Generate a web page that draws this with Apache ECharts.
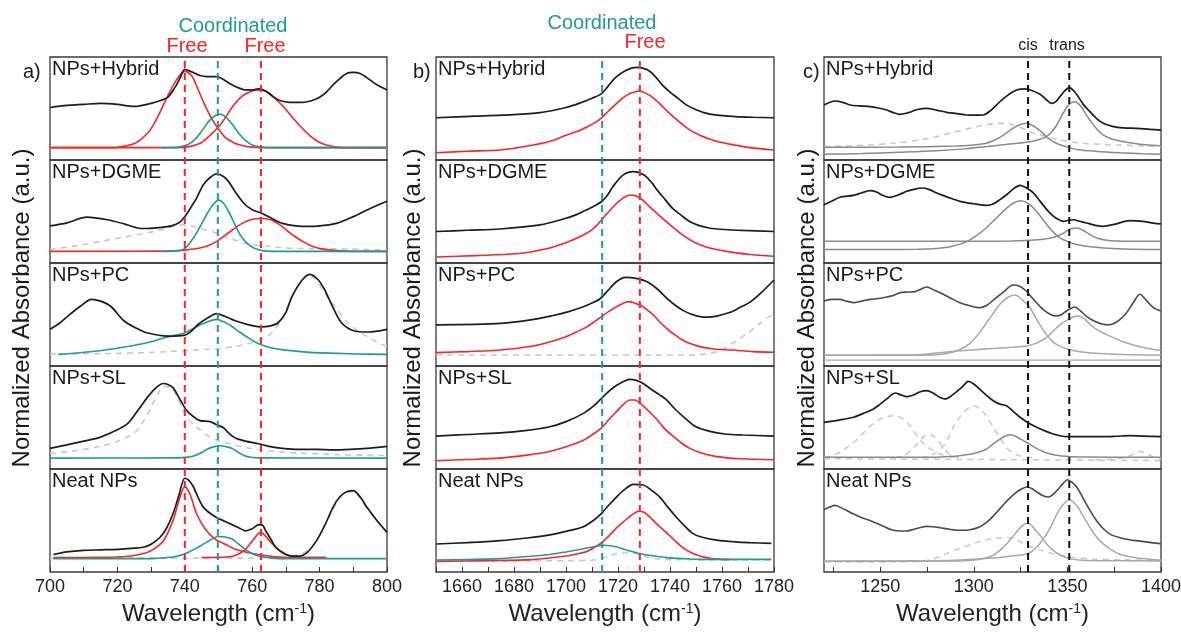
<!DOCTYPE html>
<html><head><meta charset="utf-8">
<script src="https://cdn.jsdelivr.net/npm/echarts@6/dist/echarts.min.js"></script>
<style>html,body{margin:0;padding:0;background:#fff}#chart{width:1181px;height:635px}</style>
</head><body><div id="chart"></div>
<script>
// ---------- tick labels / axes ----------
const aLabels = [700, 720, 740, 760, 780, 800];
const aTicks = [700, 710, 720, 730, 740, 750, 760, 770, 780, 790, 800];
const bLabels = [1660, 1680, 1700, 1720, 1740, 1760, 1780];
const bTicks = [1650, 1660, 1670, 1680, 1690, 1700, 1710, 1720, 1730, 1740, 1750, 1760, 1770, 1780];
const cLabels = [1250, 1300, 1350, 1400];
const cTicks = [1225, 1250, 1275, 1300, 1325, 1350, 1375, 1400];
const rowNames = ['NPs+Hybrid', 'NPs+DGME', 'NPs+PC', 'NPs+SL', 'Neat NPs'];

// ---------- reference lines ----------
const aFreeLines = [740, 762.6];
const aCoordLines = [749.8];
const bFreeLines = [1728.4];
const bCoordLines = [1713.9];
const cLines = [1329, 1351];

// ---------- panel a (700-800) ----------
const aHybBlack = [[700,51],[705,53],[710,54],[715,55],[720,54],[725,52],[730,55],[733,58],[735,61],[737,70],[738.5,79],[740,88],[741,87],[742.5,85],[744.5,82],[746.5,81],[749.5,81],[752,77],[754,73],[756,70],[758,68],[760,68],[762,69],[764,67],[766,62],[768,58],[771,56],[775,56],[778,58],[780,61],[782,66],[784,73],[786,79],[788,84],[790,85],[792,84],[794,80],[797,73],[800,68]];
const aHybFree1 = [[700,12],[716,12],[720,12.3],[724.7,15.5],[727,20],[729.7,29],[732,42],[734.6,60],[737.6,78],[740,86],[742,82],[744,68],[746,53],[748,40],[750,30],[752,22],[754.4,17],[757,14],[760,12.5],[765,12],[800,12]];
const aHybCoord = [[733,12],[738,12.5],[741,15],[743,20],[745,28],[747,37],[749,43],[750.5,44.5],[752,42],[754,35],[756,26],[758,19],[760,14.5],[763,12.5],[767,12],[800,12]];
const aHybFree2 = [[700,12],[738,12],[742,13.5],[745,17],[747.5,24],[750,32],[752,41],[754,51],[757,62],[760,67],[762,68],[764.5,66],[767,59],[769.5,51],[772,41],[774.5,32],[777,24],[779.5,18],[782,14.5],[785,12.5],[790,12],[800,12]];

const aDgmeBlack = [[700,36],[705,39],[711,44.5],[717,42],[722,38],[726,34],[729,33.5],[733,34.5],[736,36],[738.5,39.5],[740,45],[742,55],[743.5,63],[745.5,76],[747.5,83],[749.5,86.5],[751.5,84],[753,79],[755,69],[757.5,58],[760,51.6],[763,48],[766,43],[769,38.5],[773,36],[777,35.5],[780,36],[785,38.5],[790,45],[795,53],[800,60]];
const aDgmeCoord = [[733,11.3],[738,12],[740,14],[742.5,24],[745,38],[747,50],[748.5,57],[750,61],[751.5,58],[753,50],[754.5,40],[756.5,27],[758.5,19],[760.5,14.5],[763,12],[766,11.3],[800,11.3]];
const aDgmeFree = [[700,11.3],[735,11.5],[740,12.5],[744.5,14.5],[747,17],[749.5,21],[752,27],[754.5,33],[757,38.5],[759.5,42],[762.5,43.5],[765.5,42],[768,37.5],[770.5,31],[773,25],[775.5,20],[778,16],[781,13.5],[785,12],[790,11.3],[800,11.3]];
const aDgmeFit = [[700,13],[710,18],[720,24],[730,30],[735,34],[738,36.5],[740,37],[743,35],[746,32],[749.4,29],[753,24],[756,21],[760,18],[765,16],[770,14.5],[780,13.8],[790,13.5],[800,12.5]];

const aPcBlack = [[700,35.6],[703,42],[705.3,48.5],[709,58],[712.3,64.7],[715,63],[718,58],[722,43.7],[725.5,37],[729,32],[735,29],[740,30],[742,34],[744,40.5],[747,47],[749.4,50.8],[752,48],[755,44],[759,40],[762.7,37.9],[765.5,39],[767.7,42],[770,52],[771.6,66],[774.6,82.5],[777,89],[779.5,84],[781.5,74],[783.5,60],[786.5,42],[790.4,34],[794.4,33],[800,35.6]];
const aPcCoord = [[702.4,11.3],[714.2,14.6],[724,19.4],[730,23.5],[734,27.5],[740,32.4],[745,40.5],[749.4,45.3],[751.5,43],[753.8,38.8],[756,33.5],[758.8,27.5],[761,23],[763.7,19.4],[767,16.8],[770.6,15.2],[778.5,13],[790,11.8],[800,11.3]];
const aPcFit = [[700,11.3],[715,12],[729,13],[741,15.2],[751,17],[755,19],[758.8,21.7],[762,25],[764.7,29],[766.5,35],[768.6,43.7],[770.5,58],[772.6,72.8],[775,84],[777,87.4],[779,84],[780.5,76],[783,64],[785.5,53.4],[788,43],[791.5,34],[795,27],[798.3,21],[800,19.4]];

const aSlBlack = [[700,20],[705,23.5],[710,27],[715,31],[720,38],[723,44],[725,52],[727,61],[729,70],[731.5,79],[733.6,83],[735,82],[736.5,79],[738.5,68],[740.5,57],[742.5,51],[744.5,47],[747.5,46],[749.5,43],[751.5,40],[753,35],[755,30],[758,27],[762,24.5],[765,22],[769,20],[774,19],[779,19],[784,18.5],[789,19],[794,20],[800,22]];
const aSlFit = [[700,15],[708,18],[715,22],[720,27],[725,35],[728,48],[730,60],[732,73],[733.6,80],[735,80],[736.5,77],[738.5,65],[740.5,51],[742.5,43],[744.5,38],[747,32],[749.5,28],[754,24],[759.5,20],[765,17.5],[774,15.5],[785,14],[800,13]];
const aSlCoord = [[700,10.6],[738,10.8],[741,11.5],[743,13],[745,16],[746.5,19],[748.5,21.5],[750.5,22.6],[752.5,21.5],[754,20],[756,16],[758,12.5],[760,11.2],[762,10.8],[800,10.6]];

const aNeatBlack = [[701,17],[705,19.5],[710,21],[715,21.5],[720,22],[724,23],[727.6,24],[730,27],[732.6,33.5],[734.5,42],[736.5,56.5],[738.3,75],[740,91],[741.2,89],[742.5,83],[744,72],[745.5,63],[747.5,57],[749.4,53],[752,49],[754,46],[756,43],[758,40],[760,42],[762,46],[763.2,45],[764,40],[765.5,32],[767,24],[770,17],[772,15.5],[774,15.5],[776,18],[779,30],[781.5,45],[784,63],[786,73],[788,78],[790,79],[792,73],[794,63],[797,50],[800,38.5]];
const aNeatFree1 = [[701,14],[715,14.2],[720,14.5],[725,16],[729.6,20],[733.6,30],[736.5,50],[738.5,72],[740,83],[741.5,76],[743.5,56.5],[746,42],[749,32],[752,27],[755,22],[759.3,18.5],[765,15.5],[770,14],[782,14]];
const aNeatFree2 = [[745,14],[752,14.5],[755,16],[758,22],[760,30],[762.5,38.5],[765,31],[767,24],[770,17],[773,14.5],[782,14]];
const aNeatCoord = [[701,13],[730,13],[735,14],[739.5,17],[744.5,25],[747,30],[750,34.5],[752,34],[754,32],[756,27],[758,22],[760,18],[762,15.5],[766,13.5],[770,13],[800,13]];
const aNeatFit = [[700,13.5],[740,13.5],[760,13.5],[770,14.5],[774,17],[777,22],[779,30],[781.5,45],[784,61],[786,72],[788,77],[790,78],[792,72],[794,62],[797,50],[800,38]];

// ---------- panel b (1650-1780) ----------
const bHybBlack = [[1650,41],[1665,42.6],[1680,44],[1690,46],[1700,51],[1705,55],[1710,60],[1713.7,64.5],[1716,71],[1719,80],[1723,87],[1727,90],[1731,88],[1734,82],[1737,73],[1740,66],[1743,60],[1746,54],[1749,50],[1753,46],[1758,43.5],[1765,42.2],[1772,41.5],[1780,41]];
const bHybRed = [[1650,7],[1662,8.5],[1674.6,9.7],[1687.4,14.5],[1695,19],[1700,24],[1705,28.5],[1708,32],[1711,36],[1713.7,41],[1716.5,48],[1719.5,55],[1722,60.5],[1724.6,64.5],[1728,67],[1732,63],[1735.5,56],[1738.7,48],[1742,40.5],[1745,34],[1748,28.5],[1751.5,24],[1755,20.5],[1758,18],[1765,14.5],[1770.8,12],[1780,9.7]];
const bDgmeBlack = [[1650,30.6],[1662,31.8],[1674.6,33],[1690,37],[1700,43.5],[1704,47],[1708,51.6],[1711,55.5],[1713.7,59.7],[1716,66],[1718,74],[1722,85.5],[1726,88.7],[1730,85.5],[1733,78],[1735,71],[1738,62],[1741,53],[1744.5,46],[1747.7,40],[1751,36.5],[1755,34],[1761,32.5],[1768,31.6],[1780,30.6]];
const bDgmeRed = [[1650,5.8],[1665,7.2],[1681,9],[1688,11.5],[1693.8,14.5],[1698,18],[1702.8,22.6],[1706.5,27],[1709.8,32],[1711.8,36.5],[1713.7,42],[1716.5,50],[1719.5,58],[1722,63],[1724.6,66],[1727,65],[1729.5,61],[1732,55],[1735.5,47],[1738.7,40],[1742,33],[1745,27],[1748,22],[1751.5,17.7],[1756,14],[1761.8,11.3],[1770,8.5],[1780,6.5]];
const bPcBlack = [[1650,40],[1675,41.4],[1687,45],[1695,49],[1700,52],[1705,56],[1709,60],[1713,65],[1716,73],[1719.5,82],[1723,86],[1727,85],[1731,82],[1735,75],[1738.7,66],[1742,59],[1745,54],[1748,50.5],[1751.5,48],[1755,47.5],[1758,48.5],[1761,50.5],[1764,53],[1767,57],[1770.8,62],[1775,71],[1780,83.5]];
const bPcRed = [[1650,13],[1662,14],[1674.6,15.5],[1687.4,19.4],[1694,23.5],[1700,28.5],[1704,33],[1708,38],[1711,43],[1713.7,48],[1716.5,53],[1719.5,57.6],[1722,61],[1724,62.5],[1726,61.5],[1728.5,59],[1731,55],[1733.6,49.5],[1736,43],[1738.7,36.6],[1742,30],[1745,25],[1748,21.5],[1751.5,18.8],[1757,16.5],[1764,15.5],[1772,14],[1780,13.3]];
const bPcFit = [[1650,10.7],[1700,10.7],[1748,10.7],[1752,11.2],[1756,12.5],[1760,16],[1764,22],[1767,27],[1770.5,33],[1775,42],[1780,51]];
const bSlBlack = [[1650,32],[1662,33.5],[1674.6,35],[1685,37.5],[1693.8,41],[1700,46],[1706.7,54],[1711,62],[1715.6,73.5],[1720,82],[1724.6,87],[1727,86],[1729.7,83],[1733,77],[1736,72],[1738.7,67],[1742,58],[1746.4,48],[1750,41],[1755.4,36.5],[1761,34],[1768,33],[1780,32]];
const bSlRed = [[1650,8],[1662,9.2],[1674.6,10.6],[1685,13.5],[1693.8,17],[1700,21.5],[1706.7,28],[1710.5,34],[1713.7,40],[1716.5,48],[1719.5,56],[1722,62.5],[1724.6,67],[1726.5,67],[1728.5,64],[1731.5,57],[1735,48],[1738,39],[1741.3,31.6],[1744.5,25],[1747.7,20],[1752,15.5],[1758,12],[1767,10],[1780,9]];
const bNeatBlack = [[1650,27.2],[1662,28.5],[1674.6,30.4],[1685,33],[1693.8,36],[1700,39.5],[1706.7,44],[1710.5,50],[1713.7,57],[1716.5,65],[1719.5,73],[1722.5,80],[1725.9,85],[1729.7,84.5],[1733,79],[1736,73],[1739,63.5],[1742.3,53.7],[1745.5,45],[1748.7,37.5],[1752,34],[1758,31],[1765,29.3],[1770.8,28.5],[1779,27.8]];
const bNeatRed = [[1650,10.3],[1670,11],[1687,12],[1700,15.5],[1705,18],[1708,20],[1711,24],[1713.7,28.4],[1716.5,35],[1719.5,43],[1722,48.5],[1724.6,54],[1728,59],[1730,58],[1732,54],[1735,46.5],[1738.7,38],[1742,30],[1745,23.5],[1748,19],[1751.5,15.5],[1756,13],[1763,12]];
const bNeatCoord = [[1650,11.6],[1662,12.2],[1674.6,13],[1685,15],[1693.8,17],[1700,19.5],[1706.7,22.6],[1711,24.8],[1714.4,26],[1717,25.5],[1720,24],[1723,21.5],[1725.9,19.4],[1730,17],[1734,15.5],[1738.7,14],[1745,13],[1751.5,12.3],[1779,12.3]];
const bNeatFit = [[1650,10.6],[1700,11],[1710,11.5],[1713,12.5],[1716,15],[1719,17.5],[1722,18.5],[1724.6,18.7],[1728,17],[1732,14],[1736,12.5],[1740,12],[1779,11.6]];

// ---------- panel c (1220-1400) ----------
const cHybBlack = [[1220,53.4],[1225.9,57.3],[1230,56],[1233.9,53.4],[1239,52.5],[1244.6,51.8],[1249,50.5],[1253.5,48.5],[1257,46],[1260.6,44.3],[1265,46],[1270,49],[1274.8,50.2],[1280,48.5],[1285.5,46.3],[1291,45],[1296.2,43.7],[1301,43.5],[1305,43.7],[1309,48],[1314,56.6],[1317.5,62],[1321,66.3],[1324,68.5],[1327.4,69],[1331,67.5],[1335.4,63.8],[1338.5,59],[1341.6,55],[1344,57],[1346,61.5],[1348.5,67],[1351,70.2],[1353.5,67],[1355.8,61.5],[1358.5,54],[1362,47],[1365.5,40.5],[1369.2,35.6],[1374.5,32.4],[1380,31.2],[1387,30.7],[1394,29.8],[1400,29.1]];
const cHybCis = [[1220,12.3],[1260,12.6],[1290,13.5],[1300,14.5],[1306,16],[1310,18.5],[1314,22],[1318,27],[1322,32],[1325,34.5],[1328.3,35.6],[1331,34],[1335,29],[1338,24],[1341,19.5],[1345,15.5],[1350,12.5],[1356,10],[1365,8.5],[1378,7],[1390,6],[1400,5.5]];
const cHybTrans = [[1220,5.5],[1240,6.2],[1260,7.5],[1280,9],[1295,10.8],[1307,13],[1318,15.2],[1328,17.2],[1334,19.5],[1338,22],[1341,26],[1344,33],[1347,43],[1350,52],[1352,55.5],[1354,56.6],[1356,54.5],[1358,50],[1360,44],[1362,38.8],[1365,31.5],[1369,24.3],[1373,20.8],[1378,18.4],[1385,16.3],[1392,14.8],[1400,13.9]];
const cHybFit = [[1220,13],[1230,13.5],[1244.6,14.6],[1258,16.5],[1271,19.4],[1280,22.5],[1289,26.9],[1295,29.5],[1301.5,32.4],[1308,34.5],[1314,35.6],[1318,35.6],[1321,34],[1325,31.5],[1328,29],[1333,25.5],[1339,22.7],[1346,19.5],[1353,17.2],[1360,16],[1369,15.2],[1378,14.5],[1387,13.9],[1400,13]];

const cDgmeBlack = [[1220,56.6],[1224,60],[1228.5,63.8],[1235.7,65.7],[1240,68],[1244.6,70.2],[1248,69],[1251,66],[1255.3,63.8],[1259,65.5],[1264.2,69.6],[1268,71.5],[1272.2,72.8],[1276,71.5],[1280.2,68],[1286,64],[1292.6,59.9],[1300,57.5],[1306.9,56],[1310,57],[1314,61.5],[1318,67],[1321.5,72.5],[1324.7,75.4],[1328,73],[1331.8,68],[1335,61],[1338,54],[1340.7,48.5],[1344,43.5],[1347.8,40.5],[1350.5,41.5],[1353.2,42],[1356.5,40.5],[1360.3,38.8],[1365,36.5],[1369.2,35.6],[1375,37.5],[1383.4,41.1],[1390,40.5],[1395.9,38.8],[1400,37.9]];
const cDgmeCis = [[1220,13],[1250,13],[1270,13.3],[1280,14],[1285,15],[1290,17],[1296,20.5],[1301,26],[1306,33],[1310,40],[1314,47],[1318,54],[1321,58],[1324.7,60.5],[1328,59],[1331,55],[1334,49],[1337,42],[1340,35],[1343,29],[1346,24.5],[1350,21],[1354,18.5],[1360,16.3],[1368,14.8],[1380,13.7],[1400,13]];
const cDgmeTrans = [[1220,21],[1300,21],[1320,21.3],[1330,22],[1337,23],[1343,25],[1347,28],[1350,31.5],[1353,33.8],[1355,34],[1357.5,32.5],[1360,30],[1363,26.5],[1366,24],[1370,22.3],[1376,21.3],[1400,21]];

const cPcBlack = [[1220,63],[1224,64.7],[1228.5,64.7],[1232,63],[1235.7,61.5],[1240,63],[1244.6,64.7],[1249,65.5],[1253.5,67],[1257,68.5],[1260.6,71.2],[1265,71.8],[1268,72],[1271,74],[1274.8,76.7],[1279,73.5],[1283.7,69.6],[1288,65.5],[1292.6,61.5],[1298,58.5],[1303,56.6],[1307,59],[1312,66.3],[1316,72],[1321,78.6],[1324.5,77.5],[1328,72.8],[1332,64.5],[1337,55],[1341,50],[1344,48.5],[1347,50],[1349.5,53.4],[1352,56],[1354,57.3],[1357,53.5],[1360,48.5],[1364,44],[1369,40.5],[1372,40],[1374.5,41],[1378,45],[1381.6,51.8],[1385,61],[1388.8,69.6],[1392,64],[1395.9,56.6],[1400,53.4]];
const cPcCis = [[1220,10.4],[1270,10.5],[1285,12],[1292,15.5],[1298,22],[1303,32.4],[1308,45],[1314,60],[1318,66.5],[1322,69],[1326,64],[1330,56.6],[1334,44],[1338.7,30.7],[1343,22.5],[1347.8,17.8],[1353,15],[1360,13],[1375,11.5],[1400,10.7]];
const cPcTrans = [[1220,10.4],[1250,10.6],[1270,11],[1291,14.6],[1310,17],[1320,18.2],[1328,19.4],[1333,22],[1337,25.5],[1340,29.5],[1342.5,34],[1346,40],[1349.5,44],[1353,47.5],[1356,48.5],[1359,46],[1362,40.5],[1366,35],[1372.7,29],[1380,23.5],[1387,19.4],[1394,16.8],[1400,15.2]];
const cPcBase = [[1220,5.8],[1400,5.8]];

const cSlBlack = [[1220,45.3],[1228,47.5],[1235.7,50.2],[1241,54],[1246.4,58.3],[1250,63],[1253.5,68],[1256,72],[1258,73.8],[1261,72],[1264.2,70.2],[1268,72],[1271.5,75],[1274.8,76],[1278,74],[1281.5,70],[1284.6,68],[1288,71],[1292.6,77.7],[1295,82],[1297,85],[1300,82.5],[1303,77.7],[1306.5,72],[1310.4,66.3],[1314,63],[1317.5,61.5],[1321,56],[1324.7,50.2],[1329,45],[1333.6,40.5],[1338,37],[1342.5,34],[1346,32.3],[1349.6,31.4],[1360,31.4],[1369,31.4],[1376,31.8],[1383.4,32.4],[1390,32],[1400,31.4]];
const cSlComp = [[1220,11.3],[1280,11.5],[1290,12.3],[1295,13.5],[1300,15],[1303,16.5],[1306.9,19.4],[1310,24],[1314,29],[1317,32],[1319.3,33.3],[1322,32],[1325,29],[1328.3,25.9],[1332,21.5],[1337,17],[1341,14.5],[1346,12.9],[1352,12],[1360,11.6],[1400,11.3]];
const cSlFitA = [[1220,11],[1224,13],[1228.5,16],[1232,20.5],[1236,26],[1240,33],[1243,38.8],[1247,45],[1250,48.5],[1254,51],[1258,51.8],[1262,49],[1265,44],[1268,37],[1271,29],[1274,23.5],[1277,19.5],[1280,16.5],[1282,14.6],[1286,12.5],[1292,11]];
const cSlFitB = [[1258,11],[1262,12.5],[1266,17],[1270,25],[1273,31],[1276,34],[1279,31],[1282,25],[1285,18],[1288,13.5],[1292,11]];
const cSlFitC = [[1272,11],[1278,14],[1282,19],[1285,25],[1289,40.5],[1292,49],[1295,56],[1299.7,61.5],[1303,59],[1306,53],[1310.4,40.5],[1314,30],[1317,22],[1320,16.5],[1325,12.5],[1332,11]];
const cSlFitD = [[1365,9],[1375,9.8],[1382,12],[1386,15],[1389,17],[1392,15.5],[1396,11.5],[1400,9.8]];
const cSlFitBase = [[1220,10],[1320,9],[1400,8.3]];

const cNeatBlack = [[1220,60.5],[1223,63],[1225.9,64.7],[1229,62.5],[1232,59.9],[1235.5,56.5],[1239.2,53.4],[1243,51],[1246.4,48.5],[1251,45],[1257,40.5],[1261,39.8],[1264.2,39.8],[1268,41.5],[1272,43.5],[1274.8,44.3],[1278,44],[1282,43],[1287,41.5],[1292.6,40.5],[1298,41],[1303,43.7],[1307,48.5],[1310,53.5],[1314,61.5],[1318,69.5],[1323,77.7],[1326,81],[1328.3,82.5],[1331,81],[1333.6,77.7],[1337,74],[1340,72.8],[1342.5,75.5],[1345.3,80.9],[1348,86.5],[1350,89.6],[1352.5,87],[1355,82.5],[1358,73],[1362,60],[1365.5,50],[1369.2,42],[1373,36.5],[1378,33.3],[1383,31.3],[1388.8,30],[1395,28.5],[1400,27.5]];
const cNeatCis = [[1220,10.4],[1290,10.6],[1302,12],[1306,13.5],[1310,16],[1314,21],[1317.6,27.5],[1320.5,33.5],[1323,39],[1326,45],[1328.6,47.6],[1331,45],[1333,40.5],[1335.4,35.6],[1338,29.5],[1340,25],[1342.5,21],[1346,16.5],[1351.4,13],[1358,11.5],[1370,11],[1400,10.7]];
const cNeatTrans = [[1220,10.4],[1260,10.8],[1290,11.5],[1310,13.5],[1320,15.5],[1328,17.2],[1331,20],[1334,25],[1336.5,30.5],[1339,37.2],[1342,47],[1344.5,56.6],[1347.5,65],[1351,70.2],[1353.5,67.5],[1356,62],[1358,55.5],[1360.3,48.5],[1363,40.5],[1366,33],[1369,27.5],[1373,22],[1378,17.2],[1384,14.5],[1390,13],[1400,11.3]];
const cNeatFit = [[1220,9.7],[1250,9.8],[1271,10.2],[1278,12.5],[1285.5,17.8],[1292,22.5],[1299.7,27.5],[1306,31],[1314,33],[1319.3,33.3],[1323,31],[1328.3,26],[1335,21.5],[1342.5,17.8],[1348,15.5],[1353,14],[1365,12.5],[1380,11.8],[1400,11.3]];

// ---------- styling / layout ----------
const FONT = '"Liberation Sans", Arial, Helvetica, sans-serif';
const COL = {
  black: '#1c1c1c', red: '#ff2222', teal: '#1f9a9a', fit: '#c8c8c8',
  dark: '#4a4a4a', comp: '#8a8a8a', compL: '#a8a8a8'
};
const panels = [
  { left: 50, width: 337, min: 700, max: 800, labels: aLabels, ticks: aTicks, tag: 'a)', tagX: 23, titleX: 22 },
  { left: 436, width: 338, min: 1650, max: 1780, labels: bLabels, ticks: bTicks, tag: 'b)', tagX: 413, titleX: 413 },
  { left: 824, width: 337, min: 1220, max: 1400, labels: cLabels, ticks: cTicks, tag: 'c)', tagX: 803, titleX: 807 }
];
const rowTop = [57, 160, 263, 366, 469];
const rowH = 103;

// [panel, row, data, color, width, dashed]
const curves = [
  [0,0,aHybFree1,COL.red,1.6,false],[0,0,aHybFree2,COL.red,1.6,false],[0,0,aHybCoord,COL.teal,1.6,false],[0,0,aHybBlack,COL.black,1.7,false],
  [0,1,aDgmeFit,COL.fit,1.6,true],[0,1,aDgmeFree,COL.red,1.6,false],[0,1,aDgmeCoord,COL.teal,1.6,false],[0,1,aDgmeBlack,COL.black,1.7,false],
  [0,2,aPcFit,COL.fit,1.6,true],[0,2,aPcCoord,COL.teal,1.6,false],[0,2,aPcBlack,COL.black,1.7,false],
  [0,3,aSlFit,COL.fit,1.6,true],[0,3,aSlCoord,COL.teal,1.6,false],[0,3,aSlBlack,COL.black,1.7,false],
  [0,4,aNeatFit,COL.fit,1.6,true],[0,4,aNeatFree1,COL.red,1.6,false],[0,4,aNeatFree2,COL.red,1.6,false],[0,4,aNeatCoord,COL.teal,1.6,false],[0,4,aNeatBlack,COL.black,1.7,false],
  [1,0,bHybRed,COL.red,1.6,false],[1,0,bHybBlack,COL.black,1.7,false],
  [1,1,bDgmeRed,COL.red,1.6,false],[1,1,bDgmeBlack,COL.black,1.7,false],
  [1,2,bPcFit,COL.fit,1.6,true],[1,2,bPcRed,COL.red,1.6,false],[1,2,bPcBlack,COL.black,1.7,false],
  [1,3,bSlRed,COL.red,1.6,false],[1,3,bSlBlack,COL.black,1.7,false],
  [1,4,bNeatFit,COL.fit,1.6,true],[1,4,bNeatRed,COL.red,1.6,false],[1,4,bNeatCoord,COL.teal,1.6,false],[1,4,bNeatBlack,COL.black,1.7,false],
  [2,0,cHybFit,COL.fit,1.6,true],[2,0,cHybCis,COL.comp,1.5,false],[2,0,cHybTrans,COL.comp,1.5,false],[2,0,cHybBlack,COL.black,1.7,false],
  [2,1,cDgmeCis,COL.comp,1.5,false],[2,1,cDgmeTrans,COL.comp,1.5,false],[2,1,cDgmeBlack,COL.black,1.7,false],
  [2,2,cPcBase,COL.compL,1.3,false],[2,2,cPcCis,COL.compL,1.5,false],[2,2,cPcTrans,COL.compL,1.5,false],[2,2,cPcBlack,COL.dark,1.6,false],
  [2,3,cSlFitBase,COL.fit,1.5,true],[2,3,cSlFitA,COL.fit,1.5,true],[2,3,cSlFitB,COL.fit,1.5,true],[2,3,cSlFitC,COL.fit,1.5,true],[2,3,cSlFitD,COL.fit,1.5,true],[2,3,cSlComp,COL.comp,1.5,false],[2,3,cSlBlack,COL.black,1.7,false],
  [2,4,cNeatFit,COL.fit,1.5,true],[2,4,cNeatCis,COL.compL,1.5,false],[2,4,cNeatTrans,COL.compL,1.5,false],[2,4,cNeatBlack,COL.dark,1.6,false]
];
// [panel, values, color]
const vlines = [[0,aFreeLines,COL.red],[0,aCoordLines,COL.teal],[1,bFreeLines,COL.red],[1,bCoordLines,COL.teal],[2,cLines,'#111']];

const grid = [], xAxis = [], yAxis = [], series = [], graphic = [];
panels.forEach((P, p) => {
  rowTop.forEach((t, r) => {
    const gi = p * 5 + r;
    const bottom = r === 4;
    grid.push({ left: P.left, top: t, width: P.width, height: rowH, show: true, borderColor: '#3a3a3a', borderWidth: 1.3,
      backgroundColor: 'transparent', containLabel: false, outerBoundsMode: 'none' });
    xAxis.push({
      gridIndex: gi, type: 'value', min: P.min, max: P.max,
      axisLine: { show: false }, splitLine: { show: false },
      axisTick: bottom ? { show: true, inside: true, length: 5, customValues: P.ticks, lineStyle: { color: '#333', width: 1 } } : { show: false },
      axisLabel: bottom ? { show: true, customValues: P.labels, fontSize: 18, color: '#222', fontFamily: FONT, margin: 6,
        formatter: v => String(v), showMinLabel: true, showMaxLabel: true, hideOverlap: false } : { show: false },
      name: bottom ? 'Wavelength (cm{sup|-1})' : '',
      nameLocation: 'middle', nameGap: 30,
      nameTextStyle: { fontSize: 24, color: '#222', fontFamily: FONT, rich: { sup: { fontSize: 14, fontFamily: FONT, color: '#222', verticalAlign: 'top', lineHeight: 14 } } }
    });
    yAxis.push({ gridIndex: gi, type: 'value', min: 0, max: 100, show: false });
    graphic.push({ type: 'text', x: P.left + 2, y: t + 2, silent: true,
      style: { text: rowNames[r], font: '20px ' + FONT, fill: '#1a1a1a', align: 'left', verticalAlign: 'top' } });
  });
});
panels.forEach((P, p) => {
  grid.push({ left: P.left, top: 57, width: P.width, height: rowH * 5, show: false, containLabel: false, outerBoundsMode: 'none' });
  xAxis.push({ gridIndex: 15 + p, type: 'value', min: P.min, max: P.max, show: false });
  yAxis.push({ gridIndex: 15 + p, type: 'value', min: 0, max: 1, show: false });
});

curves.forEach(([p, r, data, color, width, dashed]) => {
  const gi = p * 5 + r;
  series.push({ type: 'line', xAxisIndex: gi, yAxisIndex: gi, data: data, smooth: 0.3, symbol: 'none', silent: true,
    lineStyle: { color: color, width: width, type: dashed ? [6, 5] : 'solid' }, z: 2 });
});
vlines.forEach(([p, vals, color]) => {
  vals.forEach(v => {
    series.push({ type: 'line', xAxisIndex: 15 + p, yAxisIndex: 15 + p, data: [[v, 0], [v, 1]], symbol: 'none', silent: true,
      lineStyle: { color: color, width: 2, type: [7, 5] }, z: 5 });
  });
});

panels.forEach(P => {
  graphic.push({ type: 'text', x: P.tagX, y: 62, silent: true, style: { text: P.tag, font: '20px ' + FONT, fill: '#1a1a1a', align: 'left', verticalAlign: 'top' } });
  graphic.push({ type: 'text', x: P.titleX, y: 308, rotation: Math.PI / 2, silent: true,
    style: { text: 'Normalized Absorbance (a.u.)', font: '24px ' + FONT, fill: '#1a1a1a', align: 'center', verticalAlign: 'middle' } });
});
const topTexts = [
  ['Coordinated', 233, 36, COL.teal, 20], ['Free', 187, 56, COL.red, 20], ['Free', 265, 56, COL.red, 20],
  ['Coordinated', 602, 33, COL.teal, 20], ['Free', 645, 52, COL.red, 20],
  ['cis', 1028, 54, '#1a1a1a', 16], ['trans', 1067, 54, '#1a1a1a', 16]
];
topTexts.forEach(([t, x, y, c, s]) => {
  graphic.push({ type: 'text', x: x, y: y, silent: true, style: { text: t, font: s + 'px ' + FONT, fill: c, align: 'center', verticalAlign: 'bottom' } });
});

const chart = echarts.init(document.getElementById('chart'), null, { renderer: 'canvas' });
chart.setOption({ animation: false, backgroundColor: '#fff', grid, xAxis, yAxis, series, graphic });
</script></body></html>
